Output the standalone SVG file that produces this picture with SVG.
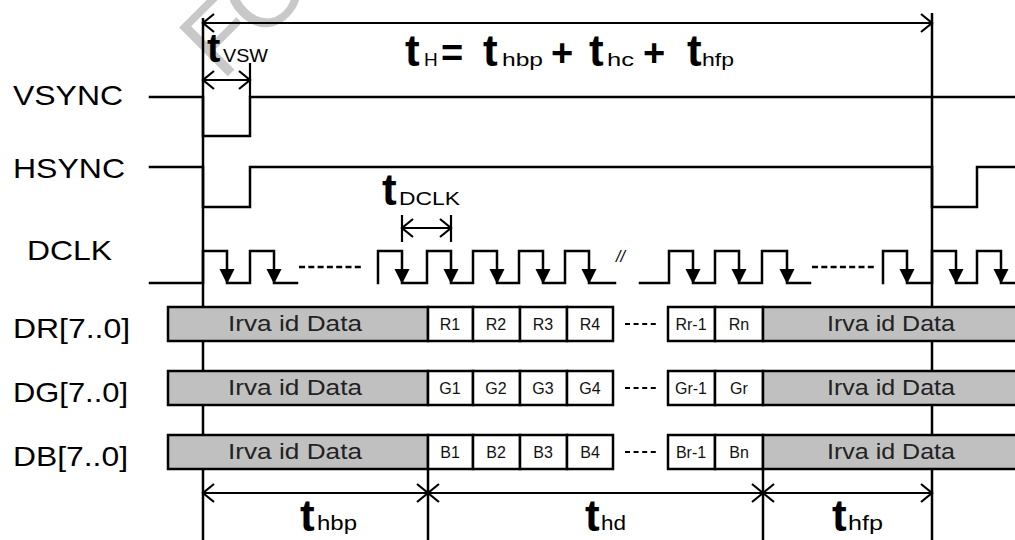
<svg xmlns="http://www.w3.org/2000/svg" width="1015" height="540" viewBox="0 0 1015 540">
<style>
.w{fill:none;stroke:#000;stroke-width:2.5;stroke-linejoin:miter;stroke-linecap:square}
.v{fill:none;stroke:#000;stroke-width:2.5}
.dim{fill:none;stroke:#000;stroke-width:2.2;marker-start:url(#open);marker-end:url(#open)}
.tick{fill:none;stroke:#000;stroke-width:2.2}
.dots{fill:none;stroke:#000;stroke-width:2.5;stroke-dasharray:6 3.3}
.dash{fill:none;stroke:#000;stroke-width:2;stroke-dasharray:5 3.6}
.gray{fill:#c0c0c0;stroke:#000;stroke-width:2.5}
.cellbox{fill:#fff;stroke:#000;stroke-width:2.5}
text{font-family:"Liberation Sans",Arial,sans-serif;fill:#000}
.lbl{font-size:28px}
.t{font-weight:bold;font-size:44px}
.tb{font-weight:bold;font-size:44px}
.op{font-weight:bold;font-size:38px}
.sub{font-size:19px}
.subb{font-size:21px}
.cell{font-size:16px;text-anchor:middle;fill:#111}
.inv{font-size:22px;text-anchor:middle;fill:#222}
.wm{font-size:100px;fill:#c8c8c8}
</style>
<defs>
<marker id="open" viewBox="-13 -11 15 22" refX="0" refY="0" markerWidth="15" markerHeight="22" markerUnits="userSpaceOnUse" orient="auto-start-reverse">
<path d="M-11,-9 L0,0 L-11,9" fill="none" stroke="#000" stroke-width="2.2"/>
</marker>
<path id="ah" d="M-7.5,-15 L7.5,-15 L0,0 Z" fill="#000"/>
</defs>

<g id="watermark">
<text class="wm" transform="translate(222,82) rotate(-45)" letter-spacing="-6">FO</text>
</g>

<g id="labels">
<text class="lbl" x="13" y="105" textLength="110" lengthAdjust="spacingAndGlyphs">VSYNC</text>
<text class="lbl" x="13" y="178" textLength="112" lengthAdjust="spacingAndGlyphs">HSYNC</text>
<text class="lbl" x="27" y="260" textLength="85" lengthAdjust="spacingAndGlyphs">DCLK</text>
<text class="lbl" x="13" y="338" textLength="117" lengthAdjust="spacingAndGlyphs">DR[7..0]</text>
<text class="lbl" x="13" y="402" textLength="115" lengthAdjust="spacingAndGlyphs">DG[7..0]</text>
<text class="lbl" x="13" y="466" textLength="115" lengthAdjust="spacingAndGlyphs">DB[7..0]</text>
</g>

<g id="reference-lines">
<line class="v" x1="203" y1="18" x2="203" y2="540"/>
<line class="v" x1="932" y1="13" x2="932" y2="540"/>
<line class="v" x1="428" y1="469" x2="428" y2="540"/>
<line class="v" x1="763" y1="469" x2="763" y2="540"/>
<line class="tick" x1="250" y1="63" x2="250" y2="97"/>
<line class="tick" x1="402" y1="215" x2="402" y2="242"/>
<line class="tick" x1="451" y1="215" x2="451" y2="242"/>
</g>

<g id="vsync">
<path class="w" d="M150,97 H203 V136 H250 V97 H1016"/>
</g>

<g id="hsync">
<path class="w" d="M150,167 H203 V207 H250 V167 H932 V207 H977 V167 H1016"/>
</g>

<g id="dclk">
<path class="w" d="M150,283 H203 V251 H227 V283 H250 V251 H274 V283 H297"/>
<line class="dots" x1="299" y1="267" x2="362" y2="267"/>
<path class="w" d="M378,283 V251 H402 V283 H427 V251 H451 V283 H473 V251 H497 V283 H519 V251 H543 V283 H565 V251 H589 V283 H615"/>
<text x="616" y="262" font-size="16" font-style="italic" fill="#555">//</text>
<path class="w" d="M640,283 H669 V251 H693 V283 H715 V251 H739 V283 H762 V251 H787 V283 H810"/>
<line class="dots" x1="812" y1="267" x2="876" y2="267"/>
<path class="w" d="M883,283 V251 H907 V283 H932 V251 H956 V283 H977 V251 H1001 V283 H1016"/>
<use href="#ah" x="227" y="284"/>
<use href="#ah" x="274" y="284"/>
<use href="#ah" x="402" y="284"/>
<use href="#ah" x="451" y="284"/>
<use href="#ah" x="497" y="284"/>
<use href="#ah" x="543" y="284"/>
<use href="#ah" x="589" y="284"/>
<use href="#ah" x="693" y="284"/>
<use href="#ah" x="739" y="284"/>
<use href="#ah" x="787" y="284"/>
<use href="#ah" x="907" y="284"/>
<use href="#ah" x="956" y="284"/>
<use href="#ah" x="1001" y="284"/>
</g>

<g id="dr">
<rect class="gray" x="168" y="307" width="260" height="34"/>
<rect class="cellbox" x="428" y="307" width="45" height="34"/>
<rect class="cellbox" x="473" y="307" width="47" height="34"/>
<rect class="cellbox" x="520" y="307" width="47" height="34"/>
<rect class="cellbox" x="567" y="307" width="46" height="34"/>
<line class="dash" x1="625" y1="324" x2="658" y2="324"/>
<rect class="cellbox" x="668" y="307" width="47" height="34"/>
<rect class="cellbox" x="715" y="307" width="48" height="34"/>
<rect class="gray" x="763" y="307" width="256" height="34"/>
<text class="inv" x="295" y="331" textLength="134" lengthAdjust="spacingAndGlyphs">Irva id Data</text>
<text class="cell" x="450" y="330">R1</text>
<text class="cell" x="496" y="330">R2</text>
<text class="cell" x="543" y="330">R3</text>
<text class="cell" x="590" y="330">R4</text>
<text class="cell" x="691" y="330">Rr-1</text>
<text class="cell" x="739" y="330">Rn</text>
<text class="inv" x="891" y="331" textLength="128" lengthAdjust="spacingAndGlyphs">Irva id Data</text>
</g>

<g id="dg">
<rect class="gray" x="168" y="371" width="260" height="34"/>
<rect class="cellbox" x="428" y="371" width="45" height="34"/>
<rect class="cellbox" x="473" y="371" width="47" height="34"/>
<rect class="cellbox" x="520" y="371" width="47" height="34"/>
<rect class="cellbox" x="567" y="371" width="46" height="34"/>
<line class="dash" x1="625" y1="388" x2="658" y2="388"/>
<rect class="cellbox" x="668" y="371" width="47" height="34"/>
<rect class="cellbox" x="715" y="371" width="48" height="34"/>
<rect class="gray" x="763" y="371" width="256" height="34"/>
<text class="inv" x="295" y="395" textLength="134" lengthAdjust="spacingAndGlyphs">Irva id Data</text>
<text class="cell" x="450" y="394">G1</text>
<text class="cell" x="496" y="394">G2</text>
<text class="cell" x="543" y="394">G3</text>
<text class="cell" x="590" y="394">G4</text>
<text class="cell" x="691" y="394">Gr-1</text>
<text class="cell" x="739" y="394">Gr</text>
<text class="inv" x="891" y="395" textLength="128" lengthAdjust="spacingAndGlyphs">Irva id Data</text>
</g>

<g id="db">
<rect class="gray" x="168" y="435" width="260" height="34"/>
<rect class="cellbox" x="428" y="435" width="45" height="34"/>
<rect class="cellbox" x="473" y="435" width="47" height="34"/>
<rect class="cellbox" x="520" y="435" width="47" height="34"/>
<rect class="cellbox" x="567" y="435" width="46" height="34"/>
<line class="dash" x1="625" y1="452" x2="658" y2="452"/>
<rect class="cellbox" x="668" y="435" width="47" height="34"/>
<rect class="cellbox" x="715" y="435" width="48" height="34"/>
<rect class="gray" x="763" y="435" width="256" height="34"/>
<text class="inv" x="295" y="459" textLength="134" lengthAdjust="spacingAndGlyphs">Irva id Data</text>
<text class="cell" x="450" y="458">B1</text>
<text class="cell" x="496" y="458">B2</text>
<text class="cell" x="543" y="458">B3</text>
<text class="cell" x="590" y="458">B4</text>
<text class="cell" x="691" y="458">Br-1</text>
<text class="cell" x="739" y="458">Bn</text>
<text class="inv" x="891" y="459" textLength="128" lengthAdjust="spacingAndGlyphs">Irva id Data</text>
</g>

<g id="connectors">
<line class="dim" x1="203" y1="23" x2="932" y2="23"/>
<line class="dim" x1="203" y1="80" x2="250" y2="80"/>
<line class="dim" x1="402" y1="228" x2="451" y2="228"/>
<line class="dim" x1="203" y1="493" x2="428" y2="493"/>
<line class="dim" x1="428" y1="493" x2="763" y2="493"/>
<line class="dim" x1="763" y1="493" x2="932" y2="493"/>
</g>

<g id="timing-labels">
<text class="t" x="207" y="62" style="font-size:40px">t</text>
<text class="sub" x="223" y="62" textLength="45" lengthAdjust="spacingAndGlyphs">VSW</text>

<text class="t" x="405" y="66">t</text>
<text class="sub" x="424" y="66">H</text>
<text class="op" x="441" y="66">=</text>
<text class="t" x="483" y="66">t</text>
<text class="sub" x="502" y="66" textLength="41" lengthAdjust="spacingAndGlyphs">hbp</text>
<text class="op" x="551" y="66">+</text>
<text class="t" x="589" y="66">t</text>
<text class="sub" x="607" y="66" textLength="27" lengthAdjust="spacingAndGlyphs">hc</text>
<text class="op" x="643" y="66">+</text>
<text class="t" x="687" y="66">t</text>
<text class="sub" x="702" y="66" textLength="32" lengthAdjust="spacingAndGlyphs">hfp</text>

<text class="t" x="382" y="205">t</text>
<text class="sub" x="399" y="205" textLength="61" lengthAdjust="spacingAndGlyphs">DCLK</text>

<text class="tb" x="300" y="531">t</text>
<text class="subb" x="317" y="530" textLength="40" lengthAdjust="spacingAndGlyphs">hbp</text>
<text class="tb" x="585" y="531">t</text>
<text class="subb" x="601" y="530" textLength="25" lengthAdjust="spacingAndGlyphs">hd</text>
<text class="tb" x="832" y="531">t</text>
<text class="subb" x="848" y="530" textLength="35" lengthAdjust="spacingAndGlyphs">hfp</text>
</g>
</svg>
